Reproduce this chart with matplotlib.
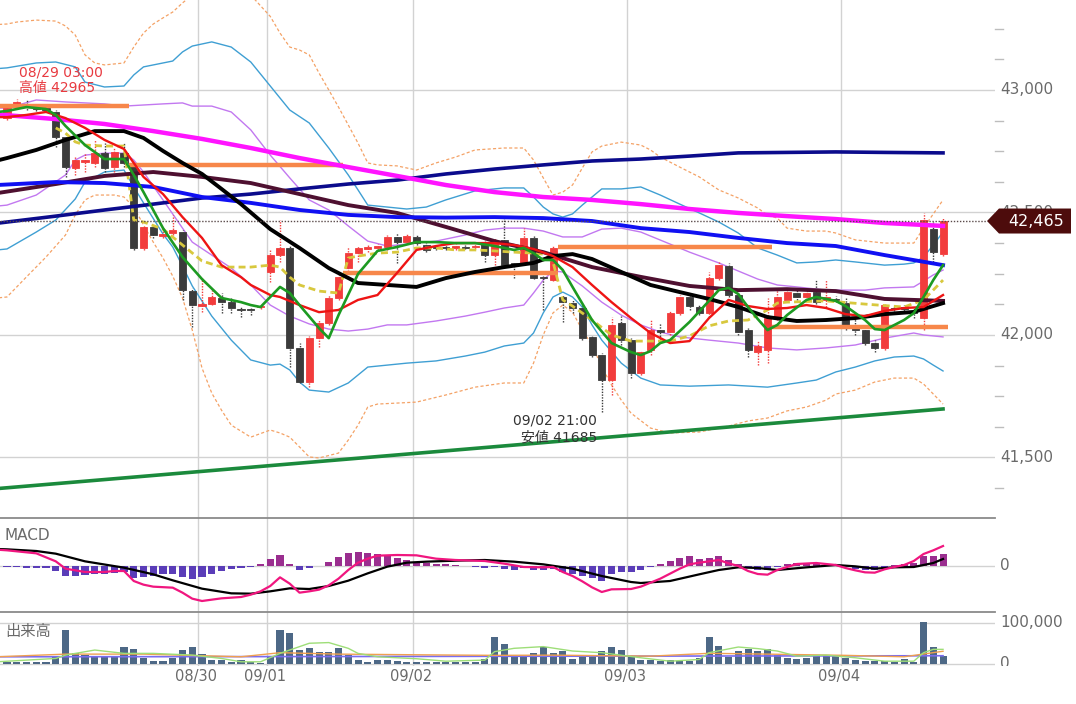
import matplotlib
matplotlib.use("Agg")
import matplotlib.pyplot as plt
from matplotlib.patches import Polygon
from matplotlib.lines import Line2D
from matplotlib.transforms import Bbox, TransformedBbox
import numpy as np

plt.rcParams['font.family'] = ['DejaVu Sans', 'Noto Sans CJK JP']

# ---------------------------------------------------------------- data
date_labels = ['08/30', '09/01', '09/02', '09/03', '09/04']
date_pos = [19.6, 26.65, 41.65, 63.6, 85.55]      # candle-index position of day lines

candle_open = [42885, 42934, 42943, 42930, 42926, 42910, 42808, 42681, 42706, 42702,
               42742, 42685, 42742, 42694, 42355, 42440, 42404, 42416, 42420, 42179,
               42118, 42126, 42151, 42134, 42102, 42102, 42114, 42257, 42326, 42355,
               41947, 41808, 41987, 42049, 42151, 42273, 42334, 42351, 42355, 42359,
               42400, 42379, 42400, 42367, 42359, 42359, 42355, 42359, 42359, 42375,
               42326, 42387, 42293, 42293, 42396, 42236, 42224, 42155, 42130, 42110,
               41992, 41918, 41816, 42049, 41979, 41845, 41939, 42020, 42012, 42089,
               42155, 42114, 42089, 42232, 42281, 42163, 42020, 41930, 41939, 42069,
               42143, 42171, 42155, 42175, 42143, 42147, 42130, 42032, 42020, 41967,
               41947, 42110, 42114, 42093, 42069, 42432, 42330]
candle_high = [42940, 42965, 42959, 42939, 42934, 42918, 42816, 42726, 42742, 42796,
               42783, 42763, 42787, 42702, 42449, 42449, 42428, 42490, 42428, 42192,
               42232, 42183, 42171, 42151, 42114, 42110, 42122, 42347, 42469, 42367,
               41967, 41996, 42061, 42163, 42253, 42359, 42363, 42367, 42371, 42408,
               42416, 42412, 42408, 42375, 42367, 42367, 42371, 42367, 42371, 42400,
               42396, 42477, 42298, 42436, 42404, 42240, 42367, 42163, 42143, 42118,
               42000, 41926, 42073, 42077, 41987, 41939, 42061, 42049, 42098, 42163,
               42167, 42126, 42257, 42298, 42293, 42171, 42028, 41979, 42151, 42183,
               42192, 42183, 42192, 42224, 42224, 42159, 42155, 42073, 42028, 41979,
               42130, 42118, 42122, 42110, 42498, 42461, 42477]
candle_low = [42877, 42926, 42918, 42914, 42910, 42767, 42645, 42653, 42665, 42685,
              42665, 42665, 42685, 42347, 42347, 42396, 42396, 42408, 42142, 42032,
              42093, 42122, 42089, 42089, 42073, 42081, 42106, 42216, 42298, 41869,
              41804, 41787, 41951, 42041, 42142, 42236, 42298, 42338, 42347, 42347,
              42293, 42371, 42367, 42338, 42347, 42347, 42347, 42351, 42351, 42298,
              42285, 42281, 42232, 42285, 42228, 42102, 42220, 42053, 42089, 41979,
              41910, 41685, 41755, 41959, 41824, 41836, 41918, 41971, 42000, 42081,
              42102, 42081, 42073, 42224, 42155, 42000, 41910, 41877, 41885, 42061,
              42134, 42143, 42143, 42126, 42114, 42134, 42020, 42000, 41959, 41930,
              41939, 42098, 42098, 42069, 42020, 42298, 42322]
candle_close = [42926, 42951, 42930, 42922, 42918, 42808, 42685, 42714, 42714, 42742,
                42681, 42747, 42702, 42355, 42440, 42408, 42412, 42428, 42183, 42122,
                42126, 42155, 42134, 42110, 42100, 42100, 42118, 42326, 42355, 41947,
                41808, 41987, 42049, 42151, 42236, 42334, 42355, 42359, 42363, 42400,
                42379, 42404, 42375, 42347, 42355, 42355, 42363, 42355, 42363, 42326,
                42375, 42285, 42285, 42396, 42232, 42232, 42355, 42134, 42110, 41987,
                41918, 41816, 42041, 41979, 41845, 41930, 42020, 42012, 42089, 42155,
                42118, 42089, 42232, 42285, 42163, 42012, 41939, 41955, 42069, 42155,
                42175, 42155, 42171, 42134, 42155, 42143, 42041, 42020, 41967, 41947,
                42122, 42106, 42106, 42089, 42469, 42338, 42465]
volume = [4000, 4000, 4000, 3000, 3000, 16500, 82000, 26500, 20500, 18000,
          18000, 18000, 39500, 34500, 12500, 6500, 6500, 12500, 33000, 39500,
          23000, 8000, 8000, 4000, 8000, 4000, 1500, 16500, 81000, 74500,
          33000, 37000, 29000, 29000, 37000, 20500, 8000, 4000, 8000, 8000,
          6000, 4000, 4000, 3000, 3000, 3000, 3000, 2500, 3000, 10000,
          66000, 47000, 18000, 18000, 25000, 40000, 26500, 30500, 10000, 17500,
          17500, 30000, 40000, 32000, 17500, 8000, 8000, 5500, 8000, 5500,
          5500, 12500, 64500, 42000, 15000, 30000, 36500, 30000, 35000, 22000,
          12500, 10000, 12500, 18000, 22000, 22000, 14000, 8000, 5500, 5500,
          5500, 4000, 11500, 3000, 101000, 40500, 18000]
macd_hist = [-3, -3, -4.5, -4.5, -6, -15, -30, -30, -27, -24,
             -24, -21, -18, -36, -33, -30, -24, -24, -33, -39,
             -33, -24, -15, -9, -6, -3, 6, 21, 33, 7.5,
             -12, -6, 1, 12, 27, 39, 42, 39, 36, 33,
             25, 18, 13, 10, 7.5, 6, 3, 1.5, -1.5, -6,
             -3, -10, -13, -6, -12, -12, -9, -18, -24, -30,
             -36, -45, -24, -18, -18, -12, -3, 6, 15, 24,
             30, 21, 24, 30, 18, 6, -1.5, -12, -12, -3,
             6, 9, 9, 7.5, 4.5, 1, -1, -9, -12, -12,
             -6, 4.5, 6, 9, 30, 30, 36]

# moving averages / bands (candle index, price)
navy_x = [-1, 5, 10, 15, 20, 25, 30, 35, 40, 45, 50, 55, 60, 65, 70, 75, 80, 85, 90, 96]
navy_y = [42456, 42485, 42510, 42534, 42559, 42575, 42596, 42616, 42632, 42657,
          42677, 42694, 42710, 42718, 42730, 42743, 42745, 42747, 42745, 42743]
magenta_x = navy_x
magenta_y = [42900, 42881, 42861, 42832, 42800, 42763, 42722, 42685, 42649, 42612,
             42583, 42563, 42551, 42534, 42514, 42498, 42485, 42473, 42457, 42445]
blue_x = navy_x
blue_y = [42612, 42624, 42620, 42604, 42563, 42539, 42510, 42490, 42481, 42479,
          42481, 42477, 42465, 42436, 42420, 42396, 42375, 42363, 42326, 42285]
maroon_x = navy_x
maroon_y = [42579, 42616, 42649, 42665, 42645, 42620, 42575, 42530, 42498, 42441,
            42383, 42338, 42277, 42237, 42200, 42183, 42187, 42179, 42147, 42139]
black_x = [-1, 0, 3, 6, 9, 12, 14, 16, 18, 20, 22, 24, 27, 30, 33, 36, 39, 42, 45, 48,
           51, 54, 56, 58, 60, 63, 66, 69, 72, 75, 78, 81, 84, 87, 90, 93, 96]
black_y = [42712, 42722, 42755, 42796, 42832, 42832, 42804, 42751, 42702, 42657,
           42596, 42534, 42432, 42355, 42273, 42212, 42204, 42196, 42232, 42257,
           42277, 42294, 42322, 42330, 42310, 42257, 42204, 42175, 42147, 42114,
           42073, 42057, 42061, 42069, 42085, 42094, 42130]
red_x = [-1, 0, 2, 4, 6, 8, 10, 12, 14, 16, 18, 20, 22, 24, 25, 27, 28, 30, 32, 34,
         36, 38, 40, 42, 44, 46, 48, 50, 52, 54, 56, 58, 60, 62, 64, 66, 68, 70, 72,
         74, 76, 78, 80, 82, 84, 86, 88, 90, 92, 94, 96]
red_y = [42889, 42889, 42898, 42910, 42885, 42845, 42796, 42759, 42645, 42575,
         42481, 42396, 42285, 42236, 42204, 42163, 42155, 42122, 42093, 42102,
         42143, 42163, 42253, 42347, 42363, 42375, 42375, 42375, 42367, 42351,
         42322, 42277, 42204, 42134, 42069, 42008, 41967, 41975, 42069, 42143,
         42118, 42106, 42110, 42122, 42110, 42085, 42077, 42098, 42110, 42114, 42163]
green_x = [-1, 0, 2, 4, 5, 6, 8, 10, 12, 13, 14, 16, 18, 20, 22, 24, 25, 26, 27, 28,
           29, 30, 32, 33, 34, 36, 38, 40, 42, 44, 46, 48, 50, 52, 53, 54, 55, 56, 57,
           58, 60, 62, 64, 65, 66, 67, 68, 70, 72, 73, 74, 75, 76, 77, 78, 79, 80, 82,
           83, 85, 86, 88, 89, 90, 92, 93, 94, 95, 96]
green_y = [42910, 42914, 42930, 42922, 42898, 42853, 42775, 42718, 42718, 42653,
           42583, 42436, 42318, 42228, 42151, 42134, 42122, 42114, 42155, 42196,
           42171, 42122, 42028, 41987, 42081, 42249, 42343, 42359, 42379, 42379,
           42375, 42375, 42363, 42347, 42355, 42334, 42306, 42306, 42265, 42196,
           42061, 41967, 41930, 41918, 41934, 41967, 41979, 42053, 42139, 42183,
           42192, 42167, 42114, 42065, 42020, 42041, 42081, 42143, 42155, 42139,
           42118, 42061, 42024, 42020, 42061, 42089, 42155, 42224, 42285]
yellow_x = [5, 6, 7, 8, 10, 12, 13, 14, 16, 18, 20, 22, 24, 25, 27, 28, 29, 30, 32, 34,
            35, 36, 38, 40, 42, 44, 46, 48, 50, 52, 54, 55, 56, 57, 58, 60, 62, 64, 66,
            68, 70, 72, 74, 76, 78, 79, 80, 84, 88, 92, 94, 96]
yellow_y = [42845, 42824, 42788, 42775, 42771, 42771, 42469, 42461, 42432, 42367,
            42302, 42277, 42277, 42277, 42285, 42277, 42236, 42204, 42179, 42171,
            42314, 42322, 42334, 42338, 42355, 42355, 42347, 42347, 42343, 42338,
            42334, 42330, 42298, 42143, 42118, 42061, 42000, 41975, 41975, 41975,
            41996, 42037, 42057, 42061, 42102, 42130, 42134, 42139, 42126, 42114,
            42143, 42224]
bb2_up_x = [-1, 0, 3, 5, 7, 8, 10, 12, 13, 14, 16, 17, 18, 19, 21, 23, 25, 27, 29, 31,
            33, 35, 36, 37, 39, 41, 43, 45, 48, 51, 53, 54, 55, 56, 57, 58, 59, 60, 61,
            63, 65, 67, 69, 71, 73, 75, 77, 79, 81, 83, 85, 87, 90, 92, 93, 94, 95, 96]
bb2_up_y = [43087, 43090, 43110, 43114, 43094, 43032, 43012, 43016, 43061, 43094,
            43110, 43118, 43155, 43179, 43196, 43175, 43114, 43016, 42918, 42865,
            42763, 42653, 42592, 42530, 42522, 42514, 42522, 42551, 42588, 42600,
            42600, 42563, 42522, 42494, 42481, 42494, 42530, 42563, 42596, 42596,
            42604, 42571, 42534, 42498, 42461, 42416, 42355, 42326, 42294, 42298,
            42306, 42298, 42285, 42289, 42294, 42318, 42367, 42420]
bb2_dn_x = [-1, 0, 3, 5, 7, 8, 10, 12, 13, 14, 16, 17, 18, 19, 21, 23, 25, 27, 28, 29,
            30, 31, 33, 35, 37, 39, 41, 44, 47, 49, 51, 53, 54, 55, 56, 57, 58, 59, 60,
            61, 63, 65, 67, 70, 74, 78, 81, 83, 85, 87, 89, 91, 93, 94, 95, 96]
bb2_dn_y = [42347, 42351, 42420, 42469, 42555, 42624, 42665, 42673, 42604, 42539,
            42412, 42359, 42281, 42200, 42077, 41979, 41898, 41877, 41881, 41857,
            41808, 41775, 41767, 41804, 41869, 41877, 41885, 41894, 41914, 41930,
            41955, 41967, 42008, 42090, 42155, 42175, 42155, 42114, 42041, 41979,
            41885, 41824, 41796, 41791, 41796, 41787, 41804, 41816, 41849, 41869,
            41894, 41910, 41914, 41902, 41877, 41853]
bb1_up_x = [-1, 0, 3, 6, 10, 12, 16, 18, 19, 21, 23, 25, 27, 29, 31, 33, 35, 37, 39, 41,
            44, 47, 49, 51, 53, 55, 57, 59, 61, 63, 65, 68, 70, 73, 75, 77, 79, 81, 84,
            88, 90, 93, 94, 95, 96]
bb1_up_y = [42926, 42926, 42959, 42951, 42943, 42934, 42943, 42947, 42934, 42934,
            42910, 42837, 42734, 42641, 42551, 42510, 42445, 42383, 42363, 42371,
            42383, 42408, 42428, 42436, 42436, 42424, 42400, 42400, 42432, 42436,
            42420, 42371, 42338, 42294, 42261, 42228, 42204, 42196, 42183, 42183,
            42192, 42196, 42220, 42245, 42265]
bb1_dn_x = [-1, 0, 3, 6, 7, 8, 10, 12, 13, 14, 16, 18, 19, 21, 23, 25, 27, 29, 31, 33,
            35, 37, 39, 41, 44, 47, 49, 51, 53, 54, 55, 56, 57, 58, 59, 61, 63, 65, 67,
            69, 72, 75, 78, 81, 84, 87, 90, 93, 94, 96]
bb1_dn_y = [42526, 42530, 42571, 42653, 42714, 42734, 42742, 42742, 42714, 42665,
            42551, 42436, 42379, 42326, 42273, 42204, 42122, 42077, 42045, 42024,
            42016, 42024, 42041, 42041, 42057, 42077, 42093, 42110, 42122, 42171,
            42224, 42261, 42257, 42228, 42200, 42134, 42081, 42041, 42012, 41992,
            41979, 41967, 41947, 41939, 41947, 41959, 41987, 42008, 42000, 41992]
bb3_up_x = [-1, 0, 1, 3, 5, 6, 7, 8, 9, 10, 12, 13, 14, 15, 16, 17, 18, 19, 21, 23,
            25, 27, 28, 29, 30, 31, 32, 33, 34, 35, 36, 37, 38, 40, 42, 44, 46, 48, 51,
            53, 54, 55, 56, 57, 58, 59, 60, 61, 63, 65, 66, 67, 69, 71, 73, 75, 77, 78,
            79, 80, 82, 84, 85, 87, 90, 93, 94, 95, 96]
bb3_up_y = [43267, 43269, 43277, 43285, 43281, 43261, 43224, 43143, 43110, 43102,
            43110, 43175, 43232, 43269, 43294, 43318, 43355, 43387, 43477, 43469,
            43387, 43300, 43232, 43175, 43163, 43143, 43069, 43000, 42930, 42857,
            42783, 42702, 42694, 42690, 42673, 42702, 42726, 42755, 42763, 42763,
            42714, 42641, 42571, 42583, 42612, 42681, 42747, 42771, 42787, 42775,
            42755, 42726, 42685, 42645, 42592, 42559, 42518, 42489, 42477, 42436,
            42424, 42424, 42416, 42388, 42375, 42375, 42436, 42494, 42551]
bb3_dn_x = [-1, 0, 2, 4, 6, 7, 8, 9, 11, 12, 13, 14, 15, 16, 17, 18, 19, 20, 21, 22,
            23, 25, 27, 28, 29, 30, 31, 32, 34, 35, 36, 37, 38, 40, 42, 45, 48, 51, 53,
            54, 55, 56, 57, 58, 59, 60, 61, 62, 63, 64, 66, 68, 71, 74, 76, 78, 80, 82,
            84, 85, 87, 89, 91, 93, 94, 95, 96]
bb3_dn_y = [42151, 42155, 42237, 42318, 42408, 42490, 42551, 42571, 42571, 42563,
            42522, 42449, 42379, 42314, 42240, 42151, 42020, 41865, 41763, 41693,
            41632, 41583, 41612, 41600, 41583, 41543, 41502, 41498, 41518, 41571,
            41632, 41706, 41718, 41722, 41726, 41755, 41787, 41804, 41804, 41885,
            42000, 42090, 42122, 42093, 42020, 41959, 41869, 41796, 41734, 41681,
            41620, 41600, 41604, 41628, 41649, 41661, 41690, 41706, 41734, 41759,
            41775, 41808, 41824, 41824, 41800, 41759, 41718]
trend_x = [-1, 96]
trend_y = [41373, 41698]
# previous-session levels: (price, start index, end index)
level_price = [42934, 42694, 42253, 42359, 42032]
level_start = [-1, 12.5, 34.5, 56.5, 78.5]
level_end = [12.5, 34.5, 56.5, 78.5, 96.5]

macd_x = [-1, 0, 3, 5, 6, 8, 10, 11, 12, 13, 14, 15, 17, 18, 19, 20, 22, 24, 25, 26,
          27, 28, 29, 30, 31, 32, 33, 34, 35, 36, 37, 38, 40, 42, 44, 46, 49, 51, 53,
          55, 56, 57, 58, 59, 60, 61, 62, 64, 65, 67, 69, 70, 71, 73, 74, 75, 76, 77,
          78, 79, 80, 81, 83, 85, 86, 87, 88, 89, 90, 91, 92, 93, 94, 95, 96]
macd_y = [49, 47, 38, 14, -8, -18, -18, -15, -15, -45, -56, -62, -65, -80, -98, -105,
          -97, -93, -86, -76, -60, -34, -53, -80, -76, -71, -58, -38, -12, 10, 22, 31,
          33, 32, 22, 18, 15, 7, -3, -4, -3, -18, -30, -46, -64, -78, -70, -69, -62,
          -38, -8, 5, 10, 18, 8, 0, -15, -24, -26, -12, -3, 6, 9, 3, -6, -13, -19, -20,
          -10, -3, 3, 15, 36, 47, 60]
signal_x = [-1, 0, 3, 5, 8, 12, 15, 17, 20, 23, 25, 27, 29, 31, 33, 35, 37, 39, 41, 43,
            46, 49, 52, 55, 58, 61, 64, 65, 68, 71, 73, 75, 77, 79, 82, 85, 87, 89, 91,
            93, 95, 96]
signal_y = [51, 50, 45, 37, 14, -5, -25, -43, -68, -82, -83, -76, -67, -69, -60, -44,
            -22, -2, 10, 13, 16, 18, 13, 5, -8, -30, -48, -51, -45, -25, -12, -4, -6,
            -12, -4, 3, -1, -8, -4, -3, 9, 21]

vol_ma_s_x = [-1, 5, 6, 9, 12, 15, 19, 22, 24, 26, 28, 31, 33, 35, 36, 38, 42, 45, 49,
              50, 52, 55, 58, 61, 65, 68, 71, 72, 75, 77, 79, 81, 84, 87, 90, 93, 94, 95, 96]
vol_ma_s_y = [4200, 12400, 20600, 33000, 24800, 24800, 20600, 12400, 4200, 4200,
              24800, 49600, 51300, 37200, 24800, 16500, 11700, 5700, 8300, 29000,
              37200, 41400, 30600, 26500, 14100, 5700, 9900, 26500, 40400, 36500,
              30600, 18100, 20600, 14100, 5700, 5700, 26500, 34700, 34700]
vol_ma_m_x = [-1, 6, 14, 24, 28, 34, 44, 50, 56, 66, 72, 78, 86, 92, 96]
vol_ma_m_y = [16500, 23000, 23000, 16500, 26500, 23000, 21000, 20000, 20500, 18000,
              25000, 23000, 20000, 16500, 30000]
vol_ma_l_x = [-1, 30, 60, 96]
vol_ma_l_y = [16500, 17000, 18000, 19000]

last_price = 42465
hi_label = ['08/29 03:00', '高値 42965']
lo_label = ['09/02 21:00', '安値 41685']

# ---------------------------------------------------------------- layout
W, H = 1076, 704
fig = plt.figure(figsize=(W / 100, H / 100), dpi=100)
fig.patch.set_facecolor('white')


def rect(x0, y0, x1, y1):
    return [x0 / W, 1 - y1 / H, (x1 - x0) / W, (y1 - y0) / H]


PLOT_R = 995
ax = fig.add_axes(rect(0, 0, PLOT_R, 518))
axm = fig.add_axes(rect(0, 518, PLOT_R, 612))
axv = fig.add_axes(rect(0, 612, PLOT_R, 666))

XMIN, XMAX = -0.718, 101.33
for a in (ax, axm, axv):
    a.set_xlim(XMIN, XMAX)
    for s in a.spines.values():
        s.set_visible(False)
    a.set_xticks([])
    a.set_yticks([])
    a.set_facecolor('none')
    for d in date_pos:
        a.axvline(d, color='#d2d2d2', lw=1, zorder=0)

ax.set_ylim(41253, 43367)
axm.set_ylim(-138, 144)
axv.set_ylim(-6100, 126200)

GRID = '#d2d2d2'
TXT = '#6a6a6a'
for p in (43000, 42500, 42000, 41500):
    ax.axhline(p, color=GRID, lw=1, zorder=0)
axm.axhline(0, color=GRID, lw=1, zorder=0)
axv.axhline(0, color=GRID, lw=1, zorder=0)
axv.axhline(100000, color=GRID, lw=1, zorder=0)

# panel separators
for yp in (518, 612):
    fig.add_artist(Line2D([0, PLOT_R / W], [1 - yp / H] * 2, transform=fig.transFigure,
                          color='#8a8a8a', lw=1.3))

# ---------------------------------------------------------------- bands
idx = np.arange(len(candle_open))
ax.plot(bb3_up_x, bb3_up_y, color='#f4a266', lw=0.9, ls=(0, (2.5, 1.8)), zorder=1)
ax.plot(bb3_dn_x, bb3_dn_y, color='#f4a266', lw=0.9, ls=(0, (2.5, 1.8)), zorder=1)
ax.plot(bb2_up_x, bb2_up_y, color='#3f9fd3', lw=1.0, zorder=1)
ax.plot(bb2_dn_x, bb2_dn_y, color='#3f9fd3', lw=1.0, zorder=1)
ax.plot(bb1_up_x, bb1_up_y, color='#c278f0', lw=1.0, zorder=1)
ax.plot(bb1_dn_x, bb1_dn_y, color='#c278f0', lw=1.0, zorder=1)

# ---------------------------------------------------------------- candles
o = np.array(candle_open, float)
c = np.array(candle_close, float)
hi = np.array(candle_high, float)
lo = np.array(candle_low, float)
up = c >= o
col = np.where(up, '#f23c3c', '#3b3b3b')
ax.vlines(idx, lo, hi, colors=col, lw=1.0, linestyles=(0, (1, 1)), zorder=2)
body_b = np.minimum(o, c)
body_h = np.maximum(np.abs(c - o), 4)
ax.bar(idx, body_h, bottom=body_b, width=0.72, color=col, edgecolor=col, lw=0.6, zorder=3)

# previous session levels
for p, s, e in zip(level_price, level_start, level_end):
    ax.plot([s, e], [p, p], color='#f7874a', lw=3.2, solid_capstyle='butt', zorder=4)

# ---------------------------------------------------------------- moving averages
ax.plot(yellow_x, yellow_y, color='#d8c83e', lw=2.0, ls=(0, (2.5, 1.5)), zorder=5)
ax.plot(navy_x, navy_y, color='#0b0b8c', lw=2.6, zorder=6)
ax.plot(maroon_x, maroon_y, color='#4e1030', lw=2.8, zorder=6)
ax.plot(blue_x, blue_y, color='#1010f2', lw=2.8, zorder=6)
ax.plot(magenta_x, magenta_y, color='#ff14ff', lw=3.2, zorder=6)
ax.plot(black_x, black_y, color='#000000', lw=2.8, zorder=7)
ax.plot(red_x, red_y, color='#ee1414', lw=1.7, zorder=8)
ax.plot(green_x, green_y, color='#1d9a22', lw=1.9, zorder=8)
ax.plot(trend_x, trend_y, color='#1b8a3c', lw=2.6, zorder=8)

# last price line and tag
ax.plot([XMIN, XMIN + (XMAX - XMIN) * 987 / PLOT_R], [last_price] * 2,
        color='#5a4a4a', lw=1.0, ls=(0, (1, 1.2)), zorder=9)
yt = ax.get_yaxis_transform()
hh = 12.5 * (43367 - 41253) / 518
tag = Polygon([[987 / PLOT_R, last_price], [999 / PLOT_R, last_price + hh],
               [1071 / PLOT_R, last_price + hh], [1071 / PLOT_R, last_price - hh],
               [999 / PLOT_R, last_price - hh]], closed=True, transform=yt,
              facecolor='#4d0c0c', edgecolor='none', clip_on=False, zorder=20)

# right axis labels (main)
for p, lab in ((43000, '43,000'), (42500, '42,500'), (42000, '42,000'), (41500, '41,500')):
    ax.text(1000 / PLOT_R, p, lab, transform=yt, ha='left', va='center', fontsize=11,
            color=TXT, clip_on=False, zorder=15)
ax.add_patch(tag)
ax.text(1036 / PLOT_R, last_price, '42,465', transform=yt, ha='center', va='center',
        fontsize=11.5, color='white', clip_on=False, zorder=21)
for p in np.arange(41375, 43376, 125):
    if p % 500:
        ax.add_line(Line2D([1.0, 1003 / PLOT_R], [p, p], transform=yt, color='#bdbdbd',
                           lw=1, clip_on=False))

# annotations
ax.text(1.23, 43073, hi_label[0], fontsize=10, color='#e83a40', ha='left', va='center', zorder=12)
ax.text(1.23, 43008, hi_label[1], fontsize=10, color='#e83a40', ha='left', va='center', zorder=12)
ax.text(56.2, 41649, lo_label[0], fontsize=10, color='#333333', ha='center', va='center', zorder=12)
ax.text(56.6, 41583, lo_label[1], fontsize=10, color='#333333', ha='center', va='center', zorder=12)

# ---------------------------------------------------------------- MACD
hist = np.array(macd_hist, float)
hcol = np.where(hist >= 0, '#9a2e8f', '#5a3db8')
axm.bar(idx, hist, width=0.72, color=hcol, zorder=2)
axm.plot(signal_x, signal_y, color='#000000', lw=1.6, zorder=3)
axm.plot(macd_x, macd_y, color='#f0167f', lw=1.6, zorder=4)
axm.text(5 / PLOT_R, 0.81, 'MACD', transform=axm.transAxes, fontsize=11, color=TXT,
         ha='left', va='center')
axm.text(1000 / PLOT_R, 0, '0', transform=axm.get_yaxis_transform(), fontsize=11,
         color=TXT, ha='left', va='center', clip_on=False)

# ---------------------------------------------------------------- volume
axv.bar(idx, volume, width=0.72, color='#4d6886', zorder=2)
axv.plot(vol_ma_l_x, vol_ma_l_y, color='#7a6cf0', lw=1.2, zorder=3)
axv.plot(vol_ma_m_x, vol_ma_m_y, color='#f0a050', lw=1.0, zorder=3)
axv.plot(vol_ma_s_x, vol_ma_s_y, color='#9ede78', lw=1.0, zorder=3)
axv.text(5 / PLOT_R, 0.64, '出来高', transform=axv.transAxes, fontsize=11, color=TXT,
         ha='left', va='center')
vt = axv.get_yaxis_transform()
axv.text(1000 / PLOT_R, 100000, '100,000', transform=vt, fontsize=11, color=TXT,
         ha='left', va='center', clip_on=False)
zt = axv.text(1000 / PLOT_R, 0, '0', transform=vt, fontsize=11, color=TXT,
              ha='left', va='center')
zt.set_clip_box(TransformedBbox(Bbox([[0, 0], [1.2, 1.0]]), axv.transAxes))
zt.set_clip_on(True)

for d, lab in zip(date_pos, date_labels):
    axv.text(d - 0.2, -0.19, lab, transform=axv.get_xaxis_transform(), ha='center',
             va='center', fontsize=10.5, color=TXT, clip_on=False)

fig.savefig('out.png', dpi=100, facecolor='white')
